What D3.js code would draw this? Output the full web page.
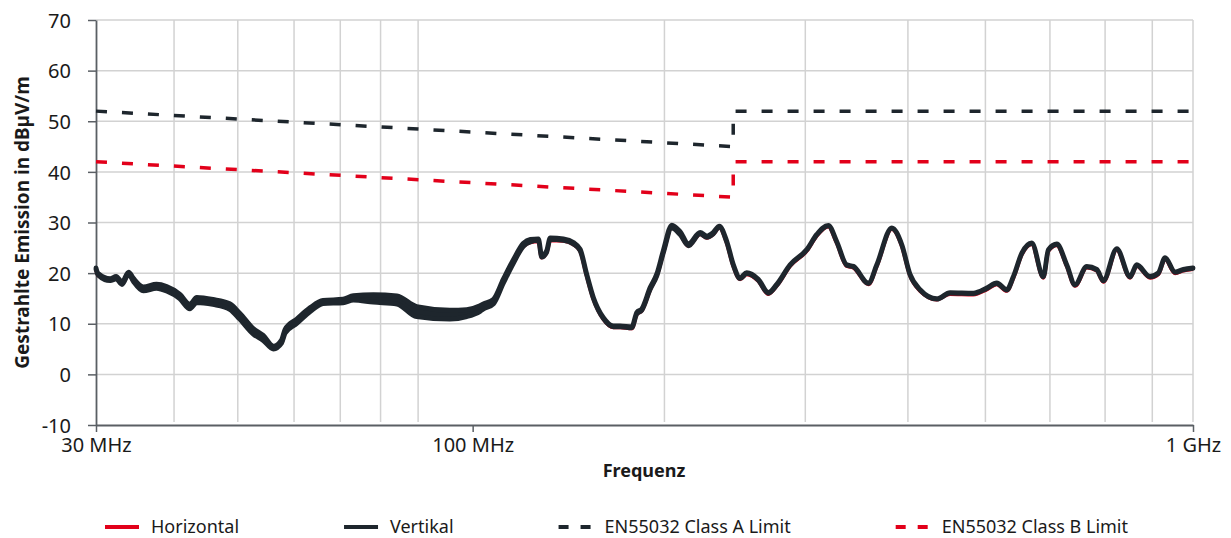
<!DOCTYPE html>
<html>
<head>
<meta charset="utf-8">
<script src="https://cdn.jsdelivr.net/npm/d3@7"></script>
<style>
	html, body { margin: 0; padding: 0; background: #fff; }
	svg { display: block; font-family: "Noto Sans", "Open Sans", sans-serif; }
</style>
</head>
<body>
<svg id="chart" width="1231" height="538"></svg>
<script>
/*** Data ***/

// measurement frequencies in MHz (shared by both polarisations)
var freqs = [
	30.0, 30.2, 31.4, 32.0, 32.6, 33.3, 33.8, 34.9, 36.4, 37.6,
	39.2, 40.5, 41.4, 43.6, 46.0, 47.5, 49.6, 51.2, 52.9, 54.3,
	54.9, 57.0, 59.5, 62.0, 66.1, 68.3, 72.8, 78.5, 83.6, 93.0,
	98.1, 102.4, 103.5, 106.9, 110.3, 113.9, 117.6, 120.2, 123.4, 124.7,
	126.7, 128.1, 133.7, 138.0, 141.0, 144.0, 147.1, 151.9, 156.8, 160.2,
	166.3, 169.0, 171.7, 176.4, 180.2, 184.0, 189.0, 194.1, 199.3, 206.9,
	211.4, 215.8, 220.0, 225.3, 230.1, 235.1, 240.1, 249.2, 257.3, 264.3,
	275.8, 290.9, 300.4, 311.7, 320.2, 330.6, 337.7, 354.3, 363.9, 381.8,
	394.2, 404.8, 418.0, 440.9, 460.0, 495.5, 517.3, 534.1, 551.4, 563.2,
	578.5, 597.3, 619.8, 629.8, 647.0, 668.0, 685.9, 712.0, 735.2, 750.8,
	783.7, 817.7, 835.4, 871.7, 895.1, 914.5, 944.3, 969.6, 1000
];

// vertical polarisation, dBuV/m (middle of the trace)
var vertikal = [
	20.9, 19.8, 18.7, 19.1, 18.0, 20.0, 18.7, 16.9, 17.4, 16.9,
	15.4, 13.4, 14.7, 14.3, 13.4, 11.5, 8.5, 7.2, 5.3, 6.5,
	8.5, 10.5, 12.8, 14.3, 14.5, 15.1, 15.0, 14.7, 12.4, 11.8,
	12.1, 13.0, 13.4, 14.4, 18.4, 22.3, 25.6, 26.4, 26.6, 23.3,
	24.3, 26.8, 26.6, 25.9, 24.6, 19.7, 15.1, 11.1, 9.5, 9.5,
	9.3, 12.1, 12.8, 17.0, 19.7, 24.3, 29.2, 27.9, 25.6, 27.9,
	27.2, 27.9, 29.2, 26.2, 21.6, 19.0, 20.0, 18.7, 16.1, 17.7,
	21.6, 24.6, 27.6, 29.4, 26.2, 21.6, 21.3, 18.0, 21.6, 28.9,
	25.6, 19.7, 16.7, 14.9, 16.1, 16.0, 17.0, 18.0, 16.7, 19.3,
	23.9, 25.9, 19.3, 24.6, 25.7, 21.6, 17.7, 21.3, 20.7, 18.5,
	24.8, 19.3, 21.6, 19.3, 20.0, 23.0, 20.2, 20.7, 21.0
];

// width of the noise band of the vertical trace, dB
var vertikalSpread = [
	0.3, 0.3, 0.4, 0.5, 0.5, 0.4, 0.6, 0.8, 0.8, 0.9,
	0.9, 0.9, 1.0, 1.0, 1.1, 1.2, 1.1, 1.0, 0.6, 0.7,
	0.8, 0.9, 0.8, 0.6, 0.7, 0.9, 1.5, 1.6, 2.0, 1.8,
	1.4, 1.1, 1.0, 0.9, 0.8, 0.7, 0.6, 0.5, 0.3, 0.3,
	0.3, 0.3, 0.3, 0.3, 0.3, 0.2, 0.2, 0.2, 0.2, 0.2,
	0.2, 0.3, 0.3, 0.4, 0.4, 0.5, 0.6, 0.6, 0.4, 0.3,
	0.3, 0.3, 0.2, 0.2, 0.2, 0.2, 0.2, 0.2, 0.2, 0.2,
	0.1, 0.1, 0.1, 0.1, 0.1, 0.1, 0.1, 0.1, 0.1, 0.1,
	0.1, 0.1, 0.1, 0.1, 0.1, 0.1, 0.1, 0.1, 0.1, 0.1,
	0.1, 0.1, 0.1, 0.1, 0.1, 0.1, 0.1, 0.1, 0.1, 0.1,
	0.1, 0.1, 0.1, 0.1, 0.1, 0.1, 0.1, 0.1, 0.1
];

// horizontal polarisation, dBuV/m (mostly hidden under the vertical trace)
var horizontal = [
	20.7, 19.6, 18.6, 18.9, 17.9, 19.8, 18.5, 16.7, 17.2, 16.7,
	15.2, 13.2, 14.5, 14.1, 13.1, 11.3, 8.3, 7.0, 5.2, 6.3,
	8.3, 10.3, 12.6, 14.1, 14.3, 14.8, 14.5, 14.1, 11.7, 11.2,
	11.7, 12.7, 13.2, 14.2, 18.2, 22.1, 25.3, 26.1, 26.3, 23.1,
	24.1, 26.5, 26.4, 25.7, 24.4, 19.5, 14.9, 10.9, 9.3, 9.3,
	9.1, 11.9, 12.6, 16.8, 19.5, 24.1, 29.0, 27.7, 25.4, 27.7,
	27.0, 27.7, 29.0, 26.0, 21.4, 18.8, 19.8, 18.5, 15.9, 17.5,
	21.4, 24.4, 27.4, 29.2, 26.0, 21.4, 21.1, 17.8, 21.4, 28.7,
	25.4, 19.5, 16.5, 14.8, 15.9, 15.8, 16.8, 17.8, 16.5, 19.1,
	23.7, 25.7, 19.1, 24.4, 25.5, 21.4, 17.5, 21.1, 20.5, 18.3,
	24.6, 19.1, 21.4, 19.1, 19.8, 22.8, 20.0, 20.5, 20.8
];

// EN55032 limits (step at 230 MHz)
var limitFreqs = [30, 230, 230, 1000];
var classA = [52, 45, 52, 52];
var classB = [42, 35, 42, 42];

// axes
var yTicks = [-10, 0, 10, 20, 30, 40, 50, 60, 70];
var xTicks = [30, 100, 1000];
var xTickLabels = ["30 MHz", "100 MHz", "1 GHz"];
var gridFreqs = [38.5, 47.2, 56.5, 65.5, 74.5, 84, 184.6, 289.6, 402, 515, 633, 755, 878, 1000];

var legendNames = ["Horizontal", "Vertikal", "EN55032 Class A Limit", "EN55032 Class B Limit"];

(function() {
	var red = "#e2001a",
		dark = "#1e262d",
		gridColor = "#d2d2d2",
		axisColor = "#5a5f64";

	var svg = d3.select("#chart");

	var x = d3.scaleLog().domain([30, 1000]).range([96, 1193]),
		y = d3.scaleLinear().domain([-10, 70]).range([425, 20]);

	/*** Grid ***/
	var grid = svg.append("g").attr("class", "grid");

	grid.selectAll("line.h")
		.data(yTicks.filter(function(v) { return v > -10; }))
		.enter().append("line")
		.attr("class", "h")
		.attr("x1", x(30)).attr("x2", x(1000))
		.attr("y1", function(d) { return y(d); })
		.attr("y2", function(d) { return y(d); })
		.style("stroke", gridColor)
		.style("stroke-width", 1.5);

	grid.selectAll("line.v")
		.data(gridFreqs)
		.enter().append("line")
		.attr("class", "v")
		.attr("x1", function(d) { return x(d); })
		.attr("x2", function(d) { return x(d); })
		.attr("y1", y(70)).attr("y2", y(-10) - 3)
		.style("stroke", gridColor)
		.style("stroke-width", 1.5);

	/*** Axes ***/
	var yAxis = svg.append("g")
		.attr("transform", "translate(" + x(30) + ",0)")
		.call(d3.axisLeft(y)
			.tickValues(yTicks)
			.tickSize(8)
			.tickSizeOuter(0)
			.tickPadding(17)
			.tickFormat(function(d) { return d < 0 ? "-" + Math.abs(d) : d; }));

	var xAxis = svg.append("g")
		.attr("transform", "translate(0," + y(-10) + ")")
		.call(d3.axisBottom(x)
			.tickValues(xTicks)
			.tickSize(7)
			.tickSizeOuter(0)
			.tickFormat(function(d, i) { return xTickLabels[i]; }));

	[yAxis, xAxis].forEach(function(ax) {
		ax.select(".domain").style("stroke", axisColor).style("stroke-width", 1.8);
		ax.selectAll(".tick line").style("stroke", axisColor).style("stroke-width", 1.5);
		ax.selectAll(".tick text")
			.style("font-family", "\"Noto Sans\", sans-serif")
			.style("font-size", "20px")
			.style("fill", "#1a1a1a");
	});
	yAxis.selectAll(".tick text").attr("dy", "0.36em");
	xAxis.selectAll(".tick text").attr("y", 12).attr("dy", "0.76em");

	// axis titles
	svg.append("text")
		.attr("x", 644)
		.attr("y", 477)
		.attr("text-anchor", "middle")
		.style("font-size", "18px")
		.style("font-weight", "bold")
		.style("fill", "#1a1a1a")
		.text("Frequenz");

	svg.append("text")
		.attr("transform", "translate(29," + ((y(70) + y(-10)) / 2) + ") rotate(-90)")
		.attr("text-anchor", "middle")
		.style("font-size", "19px")
		.style("font-weight", "bold")
		.style("fill", "#1a1a1a")
		.text("Gestrahlte Emission in dB\u00b5V/m");

	/*** Limit lines ***/
	var limitLine = d3.line()
		.x(function(d) { return x(d.f); })
		.y(function(d) { return y(d.v); });

	function limitData(values) {
		return limitFreqs.map(function(f, i) { return { f: f, v: values[i] }; });
	}

	svg.append("path")
		.datum(limitData(classA))
		.attr("d", limitLine)
		.style("fill", "none")
		.style("stroke", dark)
		.style("stroke-width", 3.5)
		.style("stroke-dasharray", "11,15");

	svg.append("path")
		.datum(limitData(classB))
		.attr("d", limitLine)
		.style("fill", "none")
		.style("stroke", red)
		.style("stroke-width", 3.5)
		.style("stroke-dasharray", "11,15");

	/*** Measurement traces ***/
	var rows = freqs.map(function(f, i) {
		return { f: f, v: vertikal[i], s: vertikalSpread[i], h: horizontal[i] };
	});

	var hLine = d3.line()
		.x(function(d) { return x(d.f); })
		.y(function(d) { return y(d.h); })
		.curve(d3.curveMonotoneX);

	svg.append("path")
		.datum(rows)
		.attr("d", hLine)
		.style("fill", "none")
		.style("stroke", red)
		.style("stroke-width", 4)
		.style("stroke-linejoin", "round");

	// vertical trace is drawn as its noise band with a thick outline
	var vBand = d3.area()
		.x(function(d) { return x(d.f); })
		.y0(function(d) { return y(d.v - d.s / 2); })
		.y1(function(d) { return y(d.v + d.s / 2); })
		.curve(d3.curveMonotoneX);

	svg.append("path")
		.datum(rows)
		.attr("d", vBand)
		.style("fill", dark)
		.style("stroke", dark)
		.style("stroke-width", 4.8)
		.style("stroke-linejoin", "round");

	/*** Legend ***/
	var legendStyles = [
		{ color: red, dash: null },
		{ color: dark, dash: null },
		{ color: dark, dash: "10,12" },
		{ color: red, dash: "10,12" }
	];

	var legend = svg.append("g").attr("class", "legend"),
		cursor = 105;

	legendNames.forEach(function(name, i) {
		var item = legend.append("g").attr("transform", "translate(" + cursor + ",0)");

		item.append("line")
			.attr("x1", 0).attr("x2", 34)
			.attr("y1", 527).attr("y2", 527)
			.style("stroke", legendStyles[i].color)
			.style("stroke-width", 4)
			.style("stroke-dasharray", legendStyles[i].dash);

		var label = item.append("text")
			.attr("x", 46)
			.attr("y", 533)
			.style("font-size", "18px")
			.style("fill", "#1a1a1a")
			.text(name);

		cursor += 46 + label.node().getComputedTextLength() + 105;
	});
})();
</script>
</body>
</html>
